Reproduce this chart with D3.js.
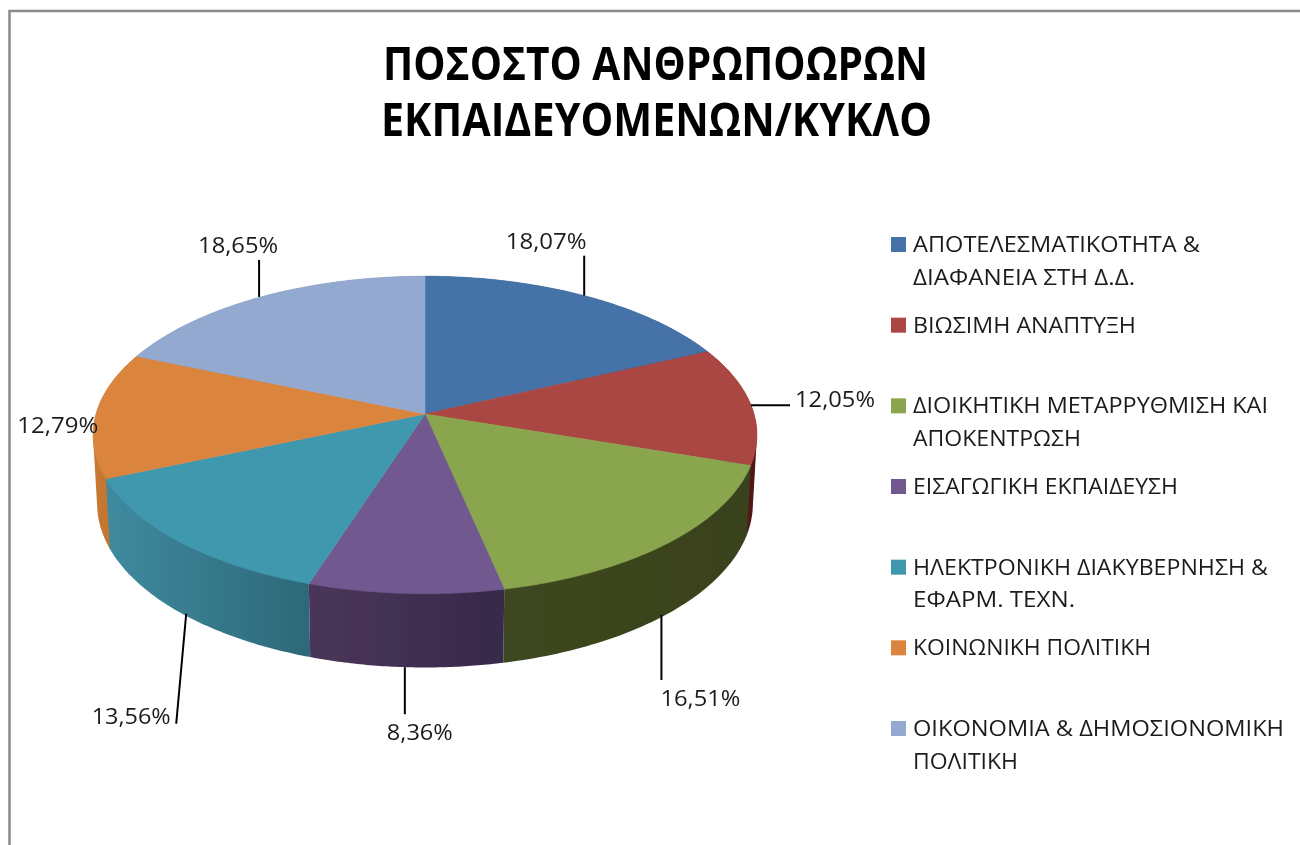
<!DOCTYPE html>
<html>
<head>
<meta charset="utf-8">
<script src="https://cdn.jsdelivr.net/npm/d3@7"></script>
<style>
html,body{margin:0;padding:0;background:#fff;overflow:hidden}
svg{display:block}
text{font-family:"Open Sans","Noto Sans",sans-serif;fill:#1c1c1c}
</style>
</head>
<body>
<svg id="chart" width="1300" height="845"></svg>
<script>
// ---- data ----
const titleLines = ["ΠΟΣΟΣΤΟ ΑΝΘΡΩΠΟΩΡΩΝ", "ΕΚΠΑΙΔΕΥΟΜΕΝΩΝ/ΚΥΚΛΟ"];
const categories = [
  ["ΑΠΟΤΕΛΕΣΜΑΤΙΚΟΤΗΤΑ &", "ΔΙΑΦΑΝΕΙΑ ΣΤΗ Δ.Δ."],
  ["ΒΙΩΣΙΜΗ ΑΝΑΠΤΥΞΗ"],
  ["ΔΙΟΙΚΗΤΙΚΗ ΜΕΤΑΡΡΥΘΜΙΣΗ ΚΑΙ", "ΑΠΟΚΕΝΤΡΩΣΗ"],
  ["ΕΙΣΑΓΩΓΙΚΗ ΕΚΠΑΙΔΕΥΣΗ"],
  ["ΗΛΕΚΤΡΟΝΙΚΗ ΔΙΑΚΥΒΕΡΝΗΣΗ &", "ΕΦΑΡΜ. ΤΕΧΝ."],
  ["ΚΟΙΝΩΝΙΚΗ ΠΟΛΙΤΙΚΗ"],
  ["ΟΙΚΟΝΟΜΙΑ & ΔΗΜΟΣΙΟΝΟΜΙΚΗ", "ΠΟΛΙΤΙΚΗ"]
];
const values = [18.07, 12.05, 16.51, 8.36, 13.56, 12.79, 18.65];

// ---- styling / layout (separate from the data) ----
const topColors  = ["#4572a7", "#aa4643", "#89a54e", "#71588f", "#4198af", "#db843d", "#93a9cf"];
const sideLight  = ["#36587f", "#641f1f", "#3d4720", "#4a3659", "#3f8a9f", "#c77a33", "#6f84a8"];
const sideDark   = ["#2c4868", "#4f1818", "#39421c", "#37294a", "#2d6879", "#b86d2a", "#5f7397"];
const titleWidths = [545, 551];
const legendWidths = [[287, 222], [223], [355, 168], [265], [355, 162], [238], [371, 105]];
// label centre offset from the slice's outer edge point; leader end offset (null = no leader)
const labelOffsets = [[-38,-47],[84,2],[35,91],[14,73],[-51,110],[-38,19],[-23,-44]];
const labelWidths  = [81, 80, 80, 66, 79, 81, 80];
const leaderStartShift = [0, 0, -4, -1, 4, 0, -2];
const leaderEnds   = [[0,-40],[39,0],[0,65],[0,47],[-10,110],null,[0,-37]];
const leaderOnSide = [false,false,true,true,true,false,false];

const svg = d3.select("#chart");
const defs = svg.append("defs");
defs.append("filter").attr("id","soft")
  .attr("x",0).attr("y",0).attr("width",1).attr("height",1)
  .attr("filterUnits","objectBoundingBox")
  .append("feGaussianBlur").attr("stdDeviation",0.45);

const root = svg.append("g").attr("filter","url(#soft)");
root.append("rect").attr("width",1300).attr("height",845).attr("fill","#fff");

// frame
root.append("path").attr("d","M9.5,845V11H1300").attr("fill","none")
  .attr("stroke","#8a8a8a").attr("stroke-width",2.5);

// title
root.selectAll("text.title").data(titleLines).join("text")
  .attr("class","title")
  .attr("x",(d,i)=>[383,381][i]).attr("y",(d,i)=>[80,136][i])
  .attr("font-size",46).attr("font-weight",700)
  .style("fill","#050505")
  .attr("textLength",(d,i)=>titleWidths[i]).attr("lengthAdjust","spacingAndGlyphs")
  .text(d=>d);

// ---- perspective pie ----
const persp = 0.132;
const topDisc    = {cx:425, cy:414, a:329, b:156};
const bottomDisc = {cx:425, cy:482, a:325, b:161};
function project(disc, theta){
  const u = Math.sin(theta), v = -Math.cos(theta);
  const s = 1/(1 - persp*v);
  return [disc.cx + disc.a*u*s, disc.cy + disc.b*v*s];
}
const pie = d3.pie().sort(null).value(d=>d)(values);
const line = d3.line();
const arcPts = (disc,a0,a1)=> d3.range(0,61).map(i=>project(disc,a0+(a1-a0)*i/60));

// sides, back to front: the sweep of each slice's rim, as the hull of its top and bottom arcs
const sideOrder = pie.map((d,i)=>({d,i}))
  .sort((p,q)=>-Math.cos((p.d.startAngle+p.d.endAngle)/2)+Math.cos((q.d.startAngle+q.d.endAngle)/2));
const gradients = defs.selectAll("linearGradient").data(pie).join("linearGradient")
  .attr("id",(d,i)=>"side"+i);
gradients.append("stop").attr("offset",0).attr("stop-color",(d,i)=>sideLight[i]);
gradients.append("stop").attr("offset",1).attr("stop-color",(d,i)=>sideDark[i]);

root.append("g").selectAll("path").data(sideOrder).join("path")
  .attr("d",({d})=>{
    const t = arcPts(topDisc,d.startAngle,d.endAngle);
    const b = arcPts(bottomDisc,d.startAngle,d.endAngle);
    return line(d3.polygonHull(t.concat(b)))+"Z";
  })
  .attr("fill",({i})=>`url(#side${i})`);

// top faces
root.append("g").selectAll("path").data(pie).join("path")
  .attr("d",d=>line([[topDisc.cx,topDisc.cy]].concat(arcPts(topDisc,d.startAngle,d.endAngle)))+"Z")
  .attr("fill",(d,i)=>topColors[i])
  .attr("stroke",(d,i)=>topColors[i]).attr("stroke-width",0.6);

// leaders and labels
const fmt = v => d3.format(".2f")(v).replace(".",",")+"%";
const edge = (d,i)=>project(leaderOnSide[i]?bottomDisc:topDisc,(d.startAngle+d.endAngle)/2);
root.append("g").selectAll("line").data(pie.filter((d,i)=>leaderEnds[i])).join("line")
  .each(function(d){
    const i = d.index, e = edge(d,i), o = leaderEnds[i], x = e[0]+leaderStartShift[i];
    d3.select(this).attr("x1",x).attr("y1",e[1]).attr("x2",x+o[0]).attr("y2",e[1]+o[1]);
  })
  .attr("stroke","#000").attr("stroke-width",2);

root.append("g").selectAll("text").data(pie).join("text")
  .attr("x",(d,i)=>edge(d,i)[0]+labelOffsets[i][0])
  .attr("y",(d,i)=>edge(d,i)[1]+labelOffsets[i][1])
  .attr("text-anchor","middle").attr("font-size",21)
  .attr("textLength",(d,i)=>labelWidths[i]).attr("lengthAdjust","spacingAndGlyphs")
  .text(d=>fmt(d.data));

// legend
const legendY = d3.scaleLinear().domain([0,categories.length-1]).range([252,736]);
const legend = root.append("g").selectAll("g").data(categories).join("g")
  .attr("transform",(d,i)=>`translate(891,${legendY(i)})`);
legend.append("rect").attr("x",0).attr("y",-15).attr("width",15).attr("height",15)
  .attr("fill",(d,i)=>topColors[i]);
legend.each(function(lines,i){
  d3.select(this).selectAll("text").data(lines).join("text")
    .attr("x",22).attr("y",(d,j)=>j*32.5)
    .attr("font-size",21)
    .attr("textLength",(d,j)=>legendWidths[i][j]).attr("lengthAdjust","spacingAndGlyphs")
    .text(d=>d);
});
</script>
</body>
</html>
